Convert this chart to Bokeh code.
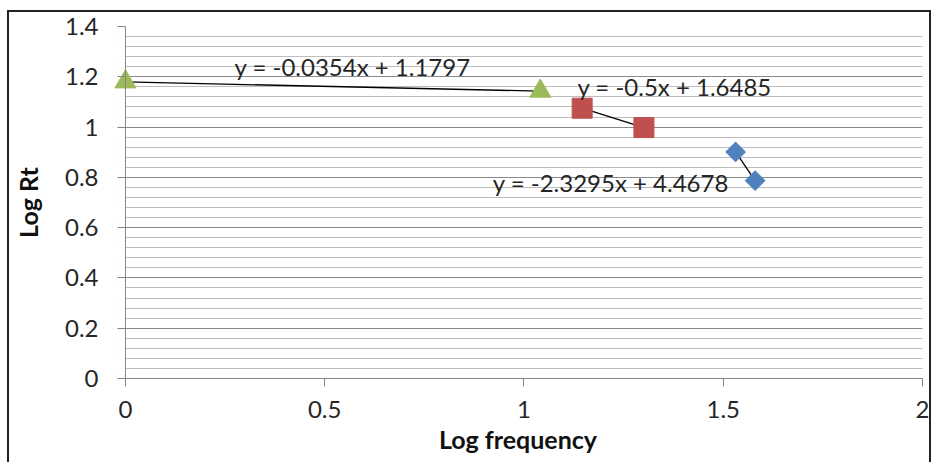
from bokeh.plotting import figure
from bokeh.models import FixedTicker, BoxAnnotation, Span
from bokeh.core.properties import value
from bokeh.embed import file_html
from bokeh.resources import INLINE

# --- data ---
green_x = [0.0, 1.041]
green_y = [1.180, 1.143]
red_x = [1.146, 1.301]
red_y = [1.075, 0.998]
blue_x = [1.531, 1.580]
blue_y = [0.901, 0.787]

trend_slope = [-0.0354, -0.5, -2.3295]
trend_icept = [1.1797, 1.6485, 4.4678]
trend_text = ["y = -0.0354x + 1.1797", "y = -0.5x + 1.6485", "y = -2.3295x + 4.4678"]
label_x = [0.570, 1.378, 1.218]
label_y = [1.241, 1.161, 0.781]

x_ticks = [0, 0.5, 1, 1.5, 2]
x_tick_labels = ["0", "0.5", "1", "1.5", "2"]
y_ticks = [0, 0.2, 0.4, 0.6, 0.8, 1.0, 1.2, 1.4]
y_tick_labels = ["0", "0.2", "0.4", "0.6", "0.8", "1", "1.2", "1.4"]
y_minor = [round(i * 0.04, 2) for i in range(36)]

FONT = "Lato"

p = figure(width=924, height=452, x_range=(-0.03, 2), y_range=(0, 1.4),
           output_backend="svg", toolbar_location=None,
           min_border_left=100, min_border_right=11, min_border_top=14, min_border_bottom=86)
p.styles = {"border-left": "2px solid #222222", "border-top": "2px solid #222222",
            "border-right": "2px solid #222222", "margin-left": "7px", "margin-top": "10px",
            "box-sizing": "border-box"}
p.outline_line_color = None
p.background_fill_color = "white"
p.border_fill_color = "white"

# grid
p.xgrid.grid_line_color = None
p.ygrid.grid_line_color = "#8a8a8a"
p.ygrid.grid_line_width = 1
p.ygrid.minor_grid_line_color = "#bdbdbd"
p.ygrid.minor_grid_line_width = 1
p.ygrid.ticker = FixedTicker(ticks=y_ticks, minor_ticks=y_minor)

# white cover left of x=0 and vertical axis line at x=0
p.add_layout(BoxAnnotation(right=0, fill_color="white", fill_alpha=1.0, line_color=None, level="underlay"))
p.add_layout(Span(location=0, dimension="height", line_color="#868686", line_width=1))

# axes
p.xaxis.ticker = FixedTicker(ticks=x_ticks)
p.xaxis.major_label_overrides = {t: l for t, l in zip(x_ticks, x_tick_labels)}
p.xaxis.bounds = (0, 2)
p.yaxis.ticker = FixedTicker(ticks=y_ticks, minor_ticks=y_minor)
p.yaxis.major_label_overrides = {t: l for t, l in zip(y_ticks, y_tick_labels)}

for ax in (p.xaxis, p.yaxis):
    ax.axis_line_color = "#868686"
    ax.axis_line_width = 1
    ax.major_tick_line_color = "#868686"
    ax.minor_tick_line_color = None
    ax.major_label_text_font = FONT
    ax.major_label_text_font_size = "24px"
    ax.major_label_text_color = "#262626"
    ax.axis_label_text_font = FONT
    ax.axis_label_text_font_style = "bold"
    ax.axis_label_text_font_size = "25px"
    ax.axis_label_text_color = "#111111"

p.xaxis.major_tick_out = 8
p.xaxis.major_tick_in = 0
p.yaxis.axis_line_color = None
p.yaxis.major_tick_in = 12
p.yaxis.major_tick_out = -4

p.xaxis.axis_label = "Log frequency"
p.yaxis.axis_label = "Log Rt"
p.xaxis.major_label_standoff = 14
p.yaxis.major_label_standoff = 11
p.xaxis.axis_label_standoff = 3
p.yaxis.axis_label_standoff = 19

# trend lines
series_x = [green_x, red_x, blue_x]
for xs, m, b in zip(series_x, trend_slope, trend_icept):
    ys = [m * x + b for x in xs]
    p.line(xs, ys, line_color="black", line_width=1.3)

# markers
p.scatter(green_x, green_y, marker="triangle", size=21, fill_color="#9BBB59", line_color="#9BBB59")
p.scatter(red_x, red_y, marker="square", size=20, fill_color="#C0504D", line_color="#C0504D")
p.scatter(blue_x, blue_y, marker="square", size=14, angle=0.785398, fill_color="#4F81BD", line_color="#4F81BD")

# equation labels
p.text(label_x, label_y, text=trend_text, text_align="center", text_baseline="middle",
       text_font=value(FONT), text_font_size="24px", text_color="#262626")

open("out.html", "w").write(file_html(p, INLINE))
